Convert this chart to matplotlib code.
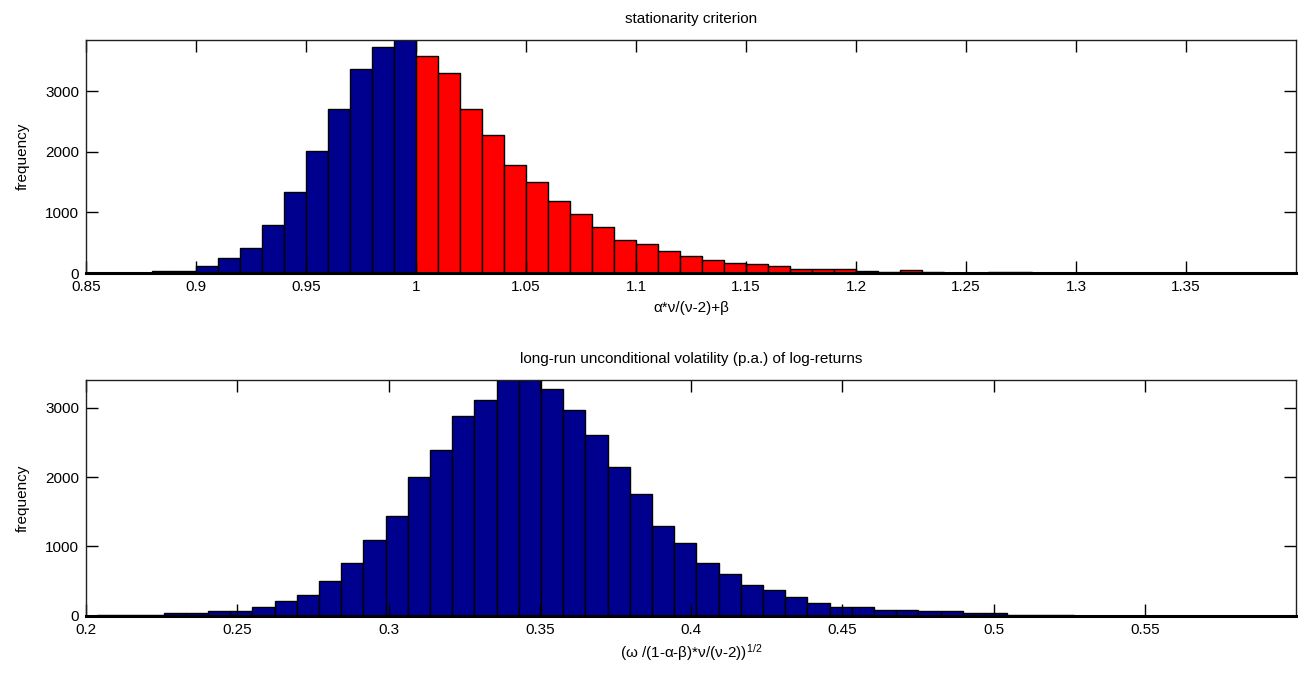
import numpy as np
import matplotlib
matplotlib.use("Agg")
from matplotlib import pyplot as plt

plt.rcParams["font.family"] = ["Liberation Sans", "DejaVu Sans"]
plt.rcParams["mathtext.fontset"] = "custom"
plt.rcParams["mathtext.rm"] = "Liberation Sans"
plt.rcParams["mathtext.it"] = "Liberation Sans"

# stationarity criterion histogram (bins of 0.01 from 0.85)
crit_start = 0.85
crit_width = 0.01
crit_counts = [5, 6, 8, 33, 35, 121, 242, 413, 799, 1344, 2011, 2705, 3372, 3736, 3846,
               3581, 3300, 2700, 2270, 1791, 1504, 1196, 981, 760, 545, 474, 358, 281,
               209, 170, 141, 113, 62, 62, 62, 40, 17, 45, 23, 4, 2, 23, 23, 3,
               2, 1, 1, 2, 1, 0, 1, 0, 1, 0, 1]
crit_split = 1.0

# long-run volatility histogram
vol_start = 0.2036
vol_width = 0.00734
vol_counts = [12, 15, 15, 38, 38, 67, 67, 130, 216, 298, 505, 755, 1087, 1442, 2005,
              2385, 2885, 3115, 3399, 3395, 3274, 2966, 2611, 2149, 1760, 1298, 1045,
              755, 606, 438, 375, 274, 183, 125, 125, 82, 82, 63, 63, 38, 38,
              8, 6, 4, 3, 3, 2, 2, 1, 1, 1, 0, 1, 1]

blue = "#00008f"
red = "#ff0000"
fs = 11


def style(ax):
    ax.tick_params(direction="in", length=8.5, width=1, top=True, right=True,
                   labelsize=fs, pad=5, color="black")
    for s in ax.spines.values():
        s.set_linewidth(1)
        s.set_color("#202020")
    # histogram baseline looks heavy in the original (empty bins draw edges)
    ax.spines["bottom"].set_linewidth(2.2)
    ax.spines["bottom"].set_color("black")
    ax.set_ylabel("frequency", fontsize=fs, labelpad=11)


fig = plt.figure(figsize=(12.98, 6.79), dpi=100)
ax1 = fig.add_axes([0.0663, 0.5979, 0.9322, 0.3432])
ax2 = fig.add_axes([0.0663, 0.0932, 0.9322, 0.3470])

edges = crit_start + crit_width * np.arange(len(crit_counts))
colors = [blue if e < crit_split - 1e-9 else red for e in edges]
ax1.bar(edges, crit_counts, width=crit_width, align="edge", color=colors,
        edgecolor="black", linewidth=1)
ax1.set_xlim(0.85, 1.4)
ax1.set_ylim(0, max(crit_counts))
ax1.set_xticks([0.85, 0.9, 0.95, 1.0, 1.05, 1.1, 1.15, 1.2, 1.25, 1.3, 1.35])
ax1.set_xticklabels(["0.85", "0.9", "0.95", "1", "1.05", "1.1", "1.15", "1.2",
                     "1.25", "1.3", "1.35"])
ax1.set_yticks([0, 1000, 2000, 3000])
style(ax1)
ax1.set_xlabel("α*ν/(ν-2)+β", fontsize=fs, labelpad=5)
ax1.set_title("stationarity criterion", fontsize=fs, pad=12)

vedges = vol_start + vol_width * np.arange(len(vol_counts))
ax2.bar(vedges, vol_counts, width=vol_width, align="edge", color=blue,
        edgecolor="black", linewidth=1)
ax2.set_xlim(0.2, 0.6)
ax2.set_ylim(0, max(vol_counts))
ax2.set_xticks([0.2, 0.25, 0.3, 0.35, 0.4, 0.45, 0.5, 0.55])
ax2.set_xticklabels(["0.2", "0.25", "0.3", "0.35", "0.4", "0.45", "0.5", "0.55"])
ax2.set_yticks([0, 1000, 2000, 3000])
style(ax2)
ax2.set_xlabel(r"(ω /(1-α-β)*ν/(ν-2))$^{1/2}$", fontsize=fs, labelpad=4)
ax2.set_title("long-run unconditional volatility (p.a.) of log-returns",
              fontsize=fs, pad=12)

fig.savefig("out.png", dpi=100)
